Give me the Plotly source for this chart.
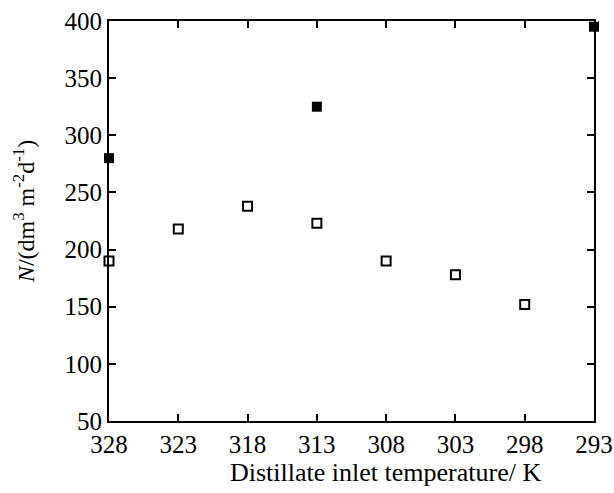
import plotly.graph_objects as go

x_ticks = [328, 323, 318, 313, 308, 303, 298, 293]
y_ticks = [50, 100, 150, 200, 250, 300, 350, 400]
open_x = [328, 323, 318, 313, 308, 303, 298]
open_y = [190, 218, 238, 223, 190, 178, 152]
filled_x = [328, 313, 293]
filled_y = [280, 325, 395]

fig = go.Figure()
fig.add_trace(go.Scatter(x=open_x, y=open_y, mode="markers",
                         marker=dict(symbol="square-open", size=9, color="black",
                                     line=dict(width=2, color="black")),
                         cliponaxis=False, showlegend=False))
fig.add_trace(go.Scatter(x=filled_x, y=filled_y, mode="markers",
                         marker=dict(symbol="square", size=10, color="black"),
                         cliponaxis=False, showlegend=False))

fam = "Liberation Serif"
font = dict(family=fam, size=25, color="black")
fig.update_layout(
    width=614, height=493,
    margin=dict(l=109, r=20, t=21, b=72),
    paper_bgcolor="white", plot_bgcolor="white",
    font=font,
    xaxis=dict(range=[328, 293], tickvals=x_ticks, ticks="inside", ticklen=7,
               tickwidth=1.5, tickcolor="black", showline=True, linewidth=2,
               linecolor="black", mirror="ticks", showgrid=False, zeroline=False,
               automargin=False, tickfont=font),
    yaxis=dict(range=[50, 400], tickvals=y_ticks,
               ticks="inside", ticklen=7, tickwidth=1.5, tickcolor="black",
               showline=True, linewidth=2, linecolor="black", mirror="ticks",
               showgrid=False, zeroline=False, automargin=False,
               tickfont=font),
    annotations=[
        dict(text="Distillate inlet temperature/ K", xref="paper", yref="paper",
             x=0.571, y=-0.13, xanchor="center", yanchor="middle",
             showarrow=False, font=dict(family=fam, size=26, color="black")),
        dict(text="<i>N</i>/(dm<sup>3</sup> m<sup>-2</sup>d<sup>-1</sup>)",
             xref="paper", yref="paper", x=-0.175, y=0.5225,
             xanchor="center", yanchor="middle", textangle=-90,
             showarrow=False, font=dict(family=fam, size=24, color="black")),
    ],
)
fig.write_html("out.html")
